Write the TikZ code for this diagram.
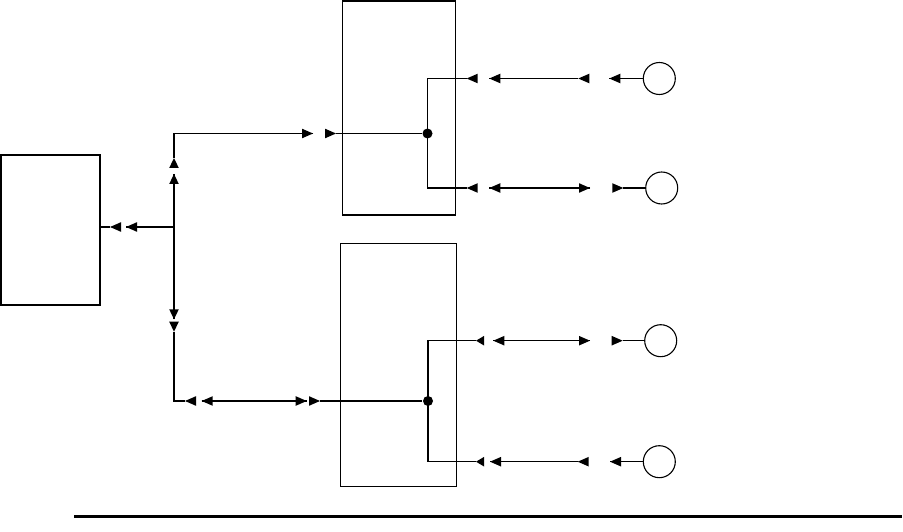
\documentclass[tikz,border=0pt]{standalone}
\newcommand\triR[2]{\fill (#1,#2) -- ++(-11,-4.8) -- ++(0,9.6) -- cycle;}
\newcommand\triL[2]{\fill (#1,#2) -- ++(11,-4.8) -- ++(0,9.6) -- cycle;}
\newcommand\triLs[2]{\fill (#1,#2) -- ++(8,-4.8) -- ++(0,9.6) -- cycle;}
\newcommand\triU[2]{\fill (#1,#2) -- ++(-4.8,10) -- ++(9.6,0) -- cycle;}
\newcommand\triD[2]{\fill (#1,#2) -- ++(-4.8,-10) -- ++(9.6,0) -- cycle;}
\begin{document}
\begin{tikzpicture}[x=1pt,y=-1pt,line width=1.1pt,
  blk/.style={draw,inner sep=0pt,minimum width=#1},
  term/.style={draw,circle,inner sep=0pt,minimum size=32pt},
  jdot/.style={fill,circle,inner sep=0pt,minimum size=10pt}]
\useasboundingbox (0,0) rectangle (903,532);
% boxes
\node[blk=99pt,minimum height=150pt] (L) at (50.5,230) {};
\node[blk=113pt,minimum height=214pt] (T) at (398.8,108) {};
\node[blk=116.4pt,minimum height=242.7pt] (B) at (398.5,364.7) {};
% junction dots
\node[jdot] (DT) at (427.5,133.5) {};
\node[jdot] (DB) at (428,401) {};
% terminals
\node[term] (C1) at (659.3,78.5) {};
\node[term] (C2) at (661.7,188) {};
\node[term] (C3) at (660.7,340.7) {};
\node[term] (C4) at (659.3,461.7) {};
\coordinate (J) at (174,227);
% left connector
\draw (L.east |- J) -- (110,227);
\triL{110}{227}\triL{126}{227}
\draw (126,227) -- (J);
% upper connector
\draw (J) -- (174,174);
\triU{174}{174}\triU{174}{158}
\draw (174,158) |- (313,133.5);
\triR{313}{133.5}\triR{336}{133.5}
\draw (336,133.5) -- (DT);
% lower connector
\draw (J) -- (174,319.3);
\triD{174}{319.3}\triD{174}{331.7}
\draw (174,331.7) |- (185,401);
\triL{185}{401}\triL{201.7}{401}
\draw (201.7,401) -- (306.7,401);
\triR{306.7}{401}\triR{320}{401}
\draw (320,401) -- (DB);
% top box branches
\draw (DT.center) |- (466.7,78.5);
\draw (DT.center) |- (466.7,188);
\triL{466.7}{78.5}\triL{489.3}{78.5}
\draw (489.3,78.5) -- (578.3,78.5);
\triL{578.3}{78.5}\triL{609.3}{78.5}
\draw (609.3,78.5) -- (C1.west);
\triL{466.7}{188}\triL{489.3}{188}
\draw (489.3,188) -- (590,188);
\triR{590}{188}\triR{623.3}{188}
\draw (623.3,188) -- (C2.west);
% bottom box branches
\draw (DB.center) |- (476,340.7);
\draw (DB.center) |- (476,461.7);
\triLs{476}{340.7}\triL{493.3}{340.7}
\draw (493.3,340.7) -- (590,340.7);
\triR{590}{340.7}\triR{622.7}{340.7}
\draw (622.7,340.7) -- (C3.west);
\triLs{476}{461.7}\triL{490}{461.7}
\draw (490,461.7) -- (577.7,461.7);
\triL{577.7}{461.7}\triL{610}{461.7}
\draw (610,461.7) -- (C4.west);
% bottom rule
\coordinate (R1) at (74,516.7);
\coordinate (R2) at (902,516.7);
\draw[line width=2.5pt] (R1) -- (R2);
\end{tikzpicture}
\end{document}
